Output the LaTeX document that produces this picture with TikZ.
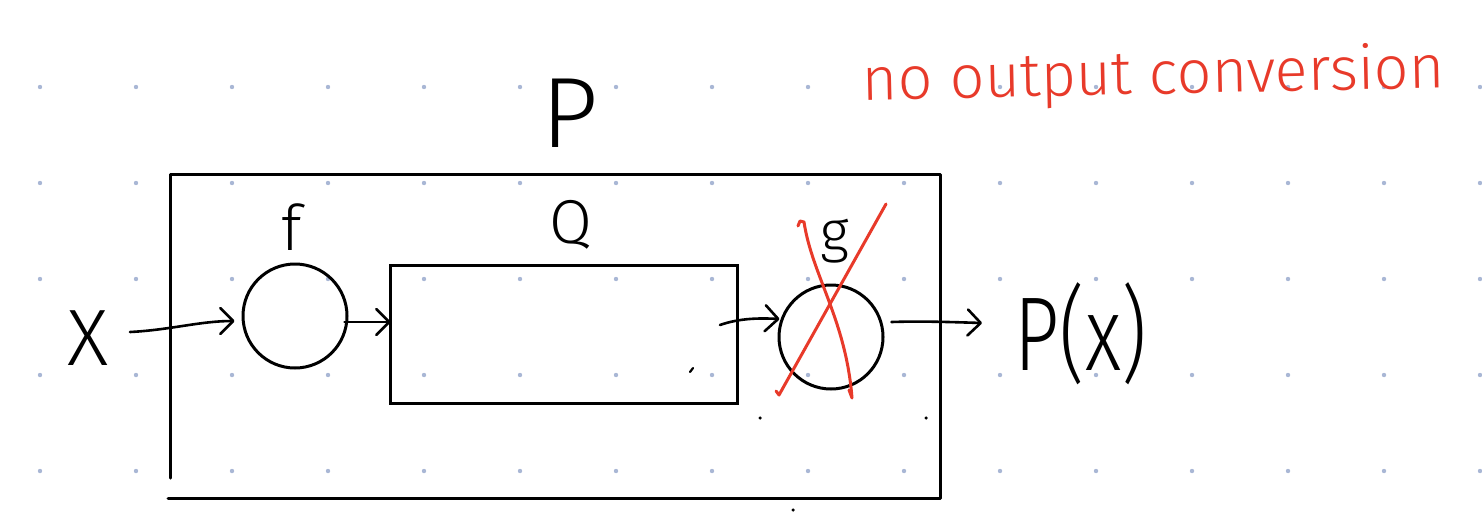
\documentclass[tikz,border=0pt]{standalone}
\usepackage{fontspec}
\newfontfamily\hand{Fira Sans Light}
\usetikzlibrary{arrows.meta,calc}
\definecolor{dotc}{RGB}{169,183,213}
\definecolor{redink}{RGB}{232,58,42}
\begin{document}
\begin{tikzpicture}[x=1pt,y=-1pt,
  ink/.style={line width=3pt,line cap=round,line join=round},
  redpen/.style={line width=3pt,line cap=round,line join=round,draw=redink},
  arr/.style={line width=2.6pt,line cap=round,line join=round,-{Straight Barb[length=13pt,width=26pt,round]}},
  ring/.style={circle,draw,line width=3pt,minimum size=104pt,inner sep=0pt},
  lbl/.style={anchor=base,inner sep=0pt,font=\hand},
  speck/.style={fill=black,circle,inner sep=0pt,minimum size=3.5pt}
]
\useasboundingbox (0,0) rectangle (1482,512);
\fill[white] (0,0) rectangle (1482,512);
% dot grid
\foreach \i in {0,...,15}{
  \foreach \j in {0,...,4}{
    \fill[dotc] (40+96*\i,87+96*\j) circle (2.2pt);
  }
}
% outer box P
\draw[ink] (170,478) -- (170,174) -- (940,174) -- (940,498) -- (168,498);
\node[lbl,font=\hand\fontsize{100}{100}\selectfont] (Ptop) at (570,147) {P};
% f
\node[ring] (f) at (295,316) {};
\node[lbl,font=\hand\fontsize{63}{63}\selectfont] (flab) at (292,250) {f};
% Q
\node[draw,line width=3pt,minimum width=347pt,minimum height=138pt,inner sep=0pt] (Q) at (563.5,334) {};
\node[lbl,font=\hand\fontsize{62}{62}\selectfont] (qlab) at (571,243) {Q};
% g
\node[ring] (g) at (831,337) {};
\node[lbl,font=\hand\fontsize{57}{57}\selectfont] (glab) at (835,251) {g};
% input / output texts
\node[lbl,font=\hand\fontsize{80}{80}\selectfont] (X) at (88,365) {X};
\node[lbl,font=\hand\fontsize{105}{105}\selectfont] (Px) at (1081,370) {\scalebox{0.75}[1]{P(x)}};
% connectors
\coordinate (xout) at (130,332);
\coordinate (pxin) at (982,323);
\coordinate (qout) at (720,325);
\draw[arr] (xout) .. controls (170,330) and (200,321) .. ($(f.west)+(-7,5)$);
\draw[arr] ($(f.east)+(-4,6)$) -- ($(Q.west)+(2,-12)$);
\draw[arr] (qout) .. controls (740,318) and (760,318) .. ($(g.west)+(2,-18)$);
\draw[arr] ($(g.east)+(7,-15)$) .. controls (920,321) and (950,322) .. (pxin);
% red cross-out
\draw[redpen] (776,391) -- (779,395) -- (886,204);
\draw[redpen] (798,226) -- (800,221) -- (804,222) .. controls (812,275) and (846,320) .. (852,398) -- (849,390);
% red note
\node[lbl,font=\hand\fontsize{61}{61}\selectfont,text=redink,rotate=1.2] (note) at (1154,94) {no output conversion};
% stray specks
\node[speck] (s1) at (760,418) {};
\node[speck] (s2) at (926,418) {};
\node[speck] (s3) at (793,510) {};
\draw[line width=2.2pt,line cap=round] (690,372) -- (693,368);
\end{tikzpicture}
\end{document}
